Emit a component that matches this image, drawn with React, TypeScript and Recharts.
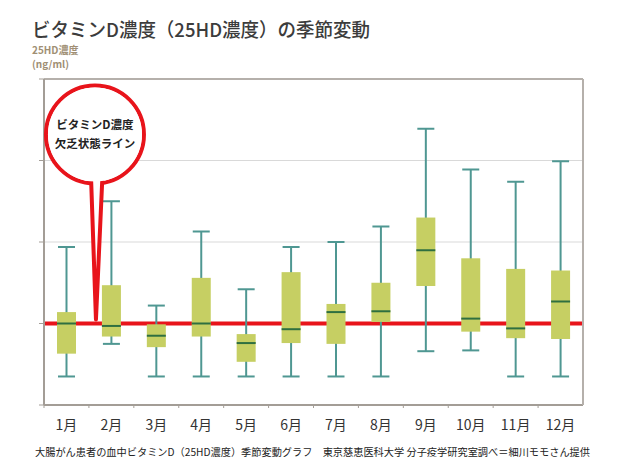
import React from 'react';
import { ComposedChart, Bar, XAxis, YAxis, CartesianGrid, ReferenceLine, ReferenceDot } from 'recharts';

const months = ['1月', '2月', '3月', '4月', '5月', '6月', '7月', '8月', '9月', '10月', '11月', '12月'];
const whiskerMax = [29.4, 35.0, 22.2, 31.3, 24.2, 29.4, 30.0, 31.9, 43.9, 38.9, 37.4, 39.9];
const q3 = [21.4, 24.7, 19.9, 25.6, 18.7, 26.3, 22.4, 25.0, 33.0, 28.0, 26.7, 26.5];
const median = [20.0, 19.7, 18.5, 20.0, 17.6, 19.3, 21.4, 21.5, 29.0, 20.6, 19.4, 22.7];
const q1 = [16.3, 18.4, 17.1, 18.4, 15.3, 17.6, 17.5, 20.2, 24.6, 19.0, 18.2, 18.1];
const whiskerMin = [13.5, 17.5, 13.5, 13.5, 13.5, 13.5, 13.5, 13.5, 16.6, 16.7, 13.5, 13.5];
const yTicks = [10, 20, 30, 40, 50];
const yDomain = [10, 50];
const deficiencyLine = 20;

const title = 'ビタミンD濃度（25HD濃度）の季節変動';
const yLabel1 = '25HD濃度';
const yLabel2 = '(ng/ml)';
const calloutLine1 = 'ビタミンD濃度';
const calloutLine2 = '欠乏状態ライン';
const caption = '大腸がん患者の血中ビタミンD（25HD濃度）季節変動グラフ　東京慈恵医科大学 分子疫学研究室調べ＝細川モモさん提供';

const data = months.map((m, i) => ({
  month: m,
  min: whiskerMin[i],
  q1: q1[i],
  median: median[i],
  q3: q3[i],
  max: whiskerMax[i],
}));

const JP = '"Noto Sans CJK JP", "Noto Sans", sans-serif';
const BOX_FILL = '#c6cf63';
const WHISKER = '#4f9792';
const MEDIAN = '#2f6f40';
const AXIS = '#a39d96';
const RED = '#e8141b';

const BoxShape = (props: any) => {
  const { x, y, width, height, payload } = props;
  if (!payload || x == null) return null;
  const top = Math.min(y, y + height);
  const h = Math.abs(height);
  const { min, max } = payload;
  const py = (v: number) => top + ((max - v) / (max - min)) * h;
  const cx = x + width / 2;
  const capL = x + 1;
  const capR = x + width - 1;
  return (
    <g>
      <line x1={cx} x2={cx} y1={py(max)} y2={py(min)} stroke={WHISKER} strokeWidth={2} />
      <line x1={capL} x2={capR} y1={py(max)} y2={py(max)} stroke={WHISKER} strokeWidth={2} />
      <line x1={capL} x2={capR} y1={py(min)} y2={py(min)} stroke={WHISKER} strokeWidth={2} />
      <rect x={x} y={py(payload.q3)} width={width} height={py(payload.q1) - py(payload.q3)} fill={BOX_FILL} />
      <line x1={x} x2={x + width} y1={py(payload.median)} y2={py(payload.median)} stroke={MEDIAN} strokeWidth={2} />
    </g>
  );
};

const EmptyTick = () => null;

const MonthTick = (props: any) => {
  const { x, y, payload, width } = props;
  const band = width ? width / months.length : 45;
  const axisY = y - 8;
  return (
    <g>
      <line x1={x - band / 2} x2={x - band / 2} y1={axisY} y2={axisY + 3} stroke={AXIS} strokeWidth={1} />
      <text x={x} y={axisY + 25} textAnchor="middle" fontSize={14} fill="#333" fontFamily={JP}>
        {payload.value}
      </text>
    </g>
  );
};

const Callout = (props: any) => {
  const { cx, cy } = props;
  if (cx == null || cy == null) return null;
  const ccx = cx + 28.5;
  const ccy = cy - 189;
  const r = 49;
  const tail = `${cx + 24.5},${cy - 148} ${cx + 36},${cy - 148} ${cx + 29.5},${cy - 4}`;
  return (
    <g>
      <circle cx={ccx} cy={ccy} r={r} fill="#fff" stroke={RED} strokeWidth={4} />
      <polygon points={tail} fill="#fff" stroke={RED} strokeWidth={4} strokeLinejoin="round" />
      <circle cx={ccx} cy={ccy} r={r - 2} fill="#fff" />
      <text x={ccx} y={ccy - 6} textAnchor="middle" fontSize={11.5} fontWeight="bold" fill="#222" fontFamily={JP}>
        {calloutLine1}
      </text>
      <text x={ccx} y={ccy + 13} textAnchor="middle" fontSize={11.5} fontWeight="bold" fill="#222" fontFamily={JP}>
        {calloutLine2}
      </text>
    </g>
  );
};

export default function App() {
  return (
    <div style={{ position: 'relative', width: 604, height: 457 }}>
      <ComposedChart
        width={604}
        height={449}
        data={data}
        margin={{ top: 71, right: 28, bottom: 22, left: 30 }}
      >
        <CartesianGrid vertical={false} stroke="#d9d9d9" />
        <XAxis
          dataKey="month"
          tickLine={false}
          axisLine={{ stroke: AXIS, strokeWidth: 2 }}
          tick={<MonthTick />}
          height={30}
          interval={0}
        />
        <YAxis
          domain={yDomain}
          ticks={yTicks}
          tick={<EmptyTick />}
          width={6}
          tickSize={5}
          axisLine={{ stroke: AXIS, strokeWidth: 2 }}
          tickLine={{ stroke: AXIS }}
          allowDataOverflow
        />
        <YAxis
          yAxisId="r"
          orientation="right"
          domain={yDomain}
          ticks={yTicks}
          tick={<EmptyTick />}
          tickLine={false}
          width={1}
          axisLine={{ stroke: '#b5b0ab', strokeWidth: 2 }}
        />
        <ReferenceLine y={yDomain[1]} stroke="#b5b0ab" strokeWidth={2} />
        <ReferenceLine y={deficiencyLine} stroke={RED} strokeWidth={4} zIndex={-50} />
        <Bar
          dataKey={(d: any) => [d.min, d.max]}
          barSize={19}
          shape={<BoxShape />}
          isAnimationActive={false}
        />
        <ReferenceDot x={months[0]} y={deficiencyLine} shape={<Callout />} ifOverflow="visible" zIndex={900} />
      </ComposedChart>
      <svg
        width={604}
        height={457}
        style={{ position: 'absolute', left: 0, top: 0, pointerEvents: 'none', overflow: 'visible' }}
      >
        <text x={24} y={29} fontSize={19} fill="#3c3c3c" fontFamily={JP} fontWeight={500} textLength={338} lengthAdjust="spacingAndGlyphs">
          {title}
        </text>
        <text x={24} y={46} fontSize={10} fill="#a08f74" fontFamily={JP} fontWeight="bold">
          {yLabel1}
        </text>
        <text x={24} y={60} fontSize={10} fill="#a08f74" fontFamily={JP} fontWeight="bold">
          {yLabel2}
        </text>
        <text x={27} y={448} fontSize={10.3} fill="#222" fontFamily={JP} textLength={555} lengthAdjust="spacingAndGlyphs">
          {caption}
        </text>
      </svg>
    </div>
  );
}
